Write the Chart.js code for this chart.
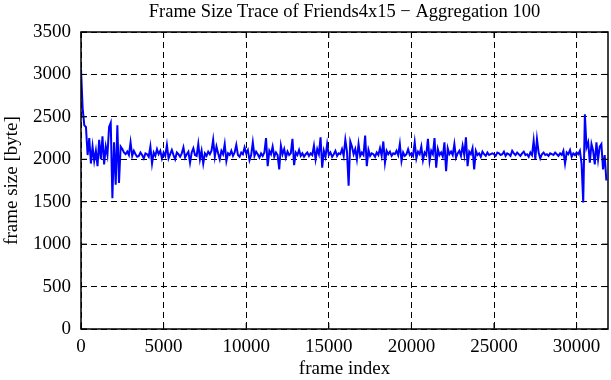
<!DOCTYPE html>
<html>
<head>
<meta charset="utf-8">
<script src="https://cdn.jsdelivr.net/npm/chart.js@4"></script>
<style>
  html, body { margin: 0; padding: 0; background: #ffffff; }
  #wrap { width: 611px; height: 380px; }
</style>
</head>
<body>
<div id="wrap"><canvas id="trace"></canvas></div>
<script>
// Frame size trace, Friends4x15, aggregated over 100 frames

const chartTitle = 'Frame Size Trace of Friends4x15 \u2212 Aggregation 100';
const aggregation = 100;   // frames per point
const xTicks = [0, 5000, 10000, 15000, 20000, 25000, 30000];
const yTicks = [0, 500, 1000, 1500, 2000, 2500, 3000, 3500];

// mean frame size [byte] per aggregation window
const frameSizes = [
    3060, 2600, 2400, 2380, 2050, 2250, 1950, 2150, 1980, 2100,
    1920, 2230, 2000, 2270, 1940, 2150, 2050, 2380, 2430, 1540,
    2200, 1700, 2400, 1720, 2150, 2120, 2080, 2060, 2090, 2050,
    2200, 2040, 2100, 2060, 2030, 2040, 2080, 2050, 2010, 2070,
    2060, 2030, 2150, 1950, 2080, 2040, 2120, 2060, 2100, 2010,
    2080, 2040, 2170, 2010, 2060, 2110, 2050, 2000, 2080, 2060,
    2030, 2070, 2140, 2020, 2060, 2090, 1960, 2080, 2130, 2050,
    2040, 2180, 2000, 2100, 1950, 2070, 2040, 2090, 2060, 2100,
    2230, 2030, 2150, 2070, 2000, 2100, 2060, 2180, 1980, 2070,
    2050, 2100, 2040, 2080, 2170, 2050, 2030, 2080, 2060, 2140,
    2070, 2110, 1990, 2050, 2200, 2040, 2090, 2060, 2020, 2070,
    2040, 2080, 2250, 1920, 2100, 2060, 2150, 2030, 2080, 2050,
    1880, 2160, 2060, 2120, 2020, 2090, 2050, 2070, 2240, 1930,
    2080, 2050, 2110, 2040, 2070, 2030, 2060, 2080, 2040, 2070,
    2050, 2160, 2000, 2120, 2060, 2260, 1900, 2100, 2030, 2180,
    2050, 2080, 2030, 2060, 2100, 2040, 2070, 2060, 2120, 2040,
    2230, 2090, 1690, 2210, 2150, 2060, 2120, 2000, 2180, 2040,
    2080, 2050, 2280, 1920, 2110, 2040, 2070, 2060, 2030, 2080,
    2050, 2130, 2040, 2210, 1960, 2100, 2060, 2090, 2040, 2070,
    2060, 2100, 2050, 2180, 1980, 2080, 2040, 2060, 2120, 2050,
    2070, 2040, 2200, 2010, 2090, 2060, 2150, 1990, 2080, 2050,
    2240, 1980, 2100, 2060, 2250, 1900, 2120, 2050, 2080, 2030,
    2200, 1860, 2130, 2060, 2090, 2050, 2180, 2020, 2070, 2100,
    2040, 2160, 2050, 2260, 1920, 2090, 2060, 2130, 1880, 2100,
    2050, 2070, 2030, 2090, 2060, 2040, 2080, 2050, 2060, 2070,
    2060, 2040, 2080, 2070, 2050, 2060, 2090, 2040, 2070, 2060,
    2040, 2100, 2070, 2050, 2080, 2060, 2040, 2070, 2090, 2050,
    2060, 2030, 2080, 2050, 2220, 2000, 2240, 2080, 2010, 2060,
    2080, 2050, 2060, 2040, 2070, 2060, 2050, 2080, 2060, 2040,
    2070, 2050, 2100, 1950, 2080, 2060, 2110, 2030, 2070, 2050,
    2080, 2060, 2100, 1950, 1490, 2530, 2140, 2200, 1960, 2180,
    2100, 1940, 2200, 2000, 2150, 2180, 1880, 2050, 1750
];

const serif = "'Liberation Serif', 'DejaVu Serif', serif";

// gnuplot look: title over the plot, solid frame, inward tics on all sides
const gnuplotFrame = {
    id: 'gnuplotFrame',
    afterDatasetsDraw(chart) {
        const { ctx, chartArea: a, scales } = chart;
        ctx.save();
        ctx.strokeStyle = '#000';
        ctx.lineWidth = 1.5;
        ctx.strokeRect(a.left, a.top, a.right - a.left, a.bottom - a.top);
        ctx.lineWidth = 1;
        ctx.beginPath();
        yTicks.forEach(v => {
            const y = scales.y.getPixelForValue(v);
            ctx.moveTo(a.left, y); ctx.lineTo(a.left + 6, y);
            ctx.moveTo(a.right, y); ctx.lineTo(a.right - 6, y);
        });
        xTicks.forEach(v => {
            const x = scales.x.getPixelForValue(v);
            ctx.moveTo(x, a.bottom); ctx.lineTo(x, a.bottom - 6);
            ctx.moveTo(x, a.top); ctx.lineTo(x, a.top + 6);
        });
        ctx.stroke();
        ctx.fillStyle = '#000';
        ctx.font = '18.5px ' + serif;
        ctx.textAlign = 'center';
        ctx.textBaseline = 'middle';
        ctx.fillText(chartTitle, (a.left + a.right) / 2, 12);
        ctx.restore();
    }
};

new Chart(document.getElementById('trace'), {
    type: 'line',
    data: {
        datasets: [{
            data: frameSizes.map((v, i) => ({ x: i * aggregation, y: v })),
            borderColor: '#0000ff',
            borderWidth: 2,
            pointRadius: 0,
            tension: 0,
            fill: false
        }]
    },
    options: {
        responsive: true,
        maintainAspectRatio: false,
        animation: false,
        layout: { padding: { top: 32, right: 3, left: 0, bottom: 0 } },
        plugins: {
            legend: { display: false },
            tooltip: { enabled: false }
        },
        scales: {
            x: {
                type: 'linear',
                min: 0,
                max: 31900,
                afterFit: s => { s.height = 51; },
                afterBuildTicks: s => { s.ticks = xTicks.map(v => ({ value: v })); },
                grid: { color: '#000', lineWidth: 1, drawTicks: false },
                border: { display: false, dash: [6, 4] },
                ticks: {
                    color: '#000',
                    padding: 7,
                    maxRotation: 0,
                    font: { family: serif, size: 19 },
                    callback: v => String(v)
                },
                title: {
                    display: true,
                    text: 'frame index',
                    color: '#000',
                    padding: { top: 0, bottom: 0 },
                    font: { family: serif, size: 19 }
                }
            },
            y: {
                min: 0,
                max: 3500,
                afterFit: s => { s.width = 81; },
                afterBuildTicks: s => { s.ticks = yTicks.map(v => ({ value: v })); },
                grid: { color: '#000', lineWidth: 1, drawTicks: false },
                border: { display: false, dash: [6, 4] },
                ticks: {
                    color: '#000',
                    padding: 10,
                    font: { family: serif, size: 19 },
                    callback: v => String(v)
                },
                title: {
                    display: true,
                    text: 'frame size [byte]',
                    color: '#000',
                    padding: { top: 1, bottom: 0 },
                    font: { family: serif, size: 19 }
                }
            }
        }
    },
    plugins: [gnuplotFrame]
});
</script>
</body>
</html>
